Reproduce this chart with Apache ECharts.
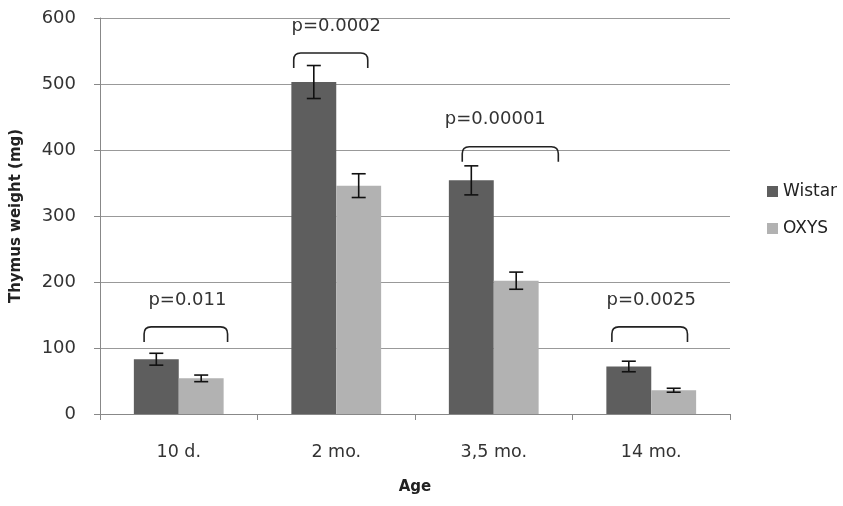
<!DOCTYPE html>
<html>
<head>
<meta charset="utf-8">
<script src="https://cdn.jsdelivr.net/npm/echarts@6/dist/echarts.min.js"></script>
<style>html,body{margin:0;padding:0;background:#fff}</style>
</head>
<body>
<div id="chart" style="width:843px;height:506px"></div>
<script>
var categories = ['10 d.', '2 mo.', '3,5 mo.', '14 mo.'];
var wistar = [83, 503, 354, 72];
var wistarErr = [9, 25, 22, 8];
var oxys = [54, 346, 202, 36];
var oxysErr = [5, 18, 13, 3];
var pValues = ['p=0.011', 'p=0.0002', 'p=0.00001', 'p=0.0025'];
var bracketTop = [132, 547, 405, 132];

// bracket left/right ends and label centre, as fractions of the category width
var bracketSpan = [[-0.22, 0.31, 0.055], [-0.27, 0.20, 0], [-0.20, 0.41, 0.01], [-0.25, 0.23, 0]];

var FONT = '"DejaVu Sans", Verdana, sans-serif';
var GAP = 0.43;

function errData(vals, errs) {
  return vals.map(function (v, i) { return [i, v - errs[i], v + errs[i]]; });
}

function errRender(side) {
  return function (params, api) {
    var i = api.value(0);
    var band = api.size([1, 0])[0];
    var off = side * band * (1 - GAP) / 4;
    var lo = api.coord([i, api.value(1)]);
    var hi = api.coord([i, api.value(2)]);
    var x = lo[0] + off, hw = 7;
    var st = { stroke: '#111', lineWidth: 1.6 };
    return {
      type: 'group',
      children: [
        { type: 'line', shape: { x1: x, y1: hi[1], x2: x, y2: lo[1] }, style: st },
        { type: 'line', shape: { x1: x - hw, y1: hi[1], x2: x + hw, y2: hi[1] }, style: st },
        { type: 'line', shape: { x1: x - hw, y1: lo[1], x2: x + hw, y2: lo[1] }, style: st }
      ]
    };
  };
}

function bracketRender(params, api) {
  var i = api.value(0);
  var c = api.coord([i, api.value(1)]);
  var band = api.size([1, 0])[0];
  var s = bracketSpan[i];
  var x1 = c[0] + s[0] * band, x2 = c[0] + s[1] * band, y = c[1];
  var leg = 15, r = 7;
  var d = 'M' + x1 + ' ' + (y + leg) + ' L' + x1 + ' ' + (y + r) +
    ' Q' + x1 + ' ' + y + ' ' + (x1 + r) + ' ' + y +
    ' L' + (x2 - r) + ' ' + y +
    ' Q' + x2 + ' ' + y + ' ' + x2 + ' ' + (y + r) +
    ' L' + x2 + ' ' + (y + leg);
  return {
    type: 'group',
    children: [
      { type: 'path', shape: { pathData: d }, style: { fill: 'none', stroke: '#222', lineWidth: 1.6 } },
      {
        type: 'text', x: c[0] + s[2] * band, y: y - 27,
        style: { text: pValues[i], font: '18px ' + FONT, fill: '#333', align: 'center', verticalAlign: 'middle' }
      }
    ]
  };
}

var chart = echarts.init(document.getElementById('chart'));
var option = {
  animation: false,
  backgroundColor: '#fff',
  grid: { left: 100, right: 113, top: 18, bottom: 92, outerBoundsMode: 'none' },
  legend: {
    data: ['Wistar', 'OXYS'],
    orient: 'vertical',
    left: 762,
    top: 178,
    icon: 'rect',
    itemWidth: 11,
    itemHeight: 11,
    itemGap: 20,
    textStyle: { fontFamily: FONT, fontSize: 17, color: '#222' }
  },
  xAxis: {
    type: 'category',
    data: categories,
    name: 'Age',
    nameLocation: 'middle',
    nameGap: 66,
    nameTextStyle: { fontFamily: FONT, fontSize: 15, fontWeight: 'bold', color: '#222' },
    axisLine: { lineStyle: { color: '#888' } },
    axisTick: { show: true, length: 6, lineStyle: { color: '#888' } },
    axisLabel: { fontFamily: FONT, fontSize: 17.5, color: '#333', margin: 29 }
  },
  yAxis: {
    type: 'value',
    min: 0,
    max: 600,
    interval: 100,
    name: 'Thymus weight (mg)',
    nameLocation: 'middle',
    nameGap: 76,
    nameRotate: 90,
    nameTextStyle: { fontFamily: FONT, fontSize: 15, fontWeight: 'bold', color: '#222' },
    axisLine: { show: true, lineStyle: { color: '#888' } },
    axisTick: { show: true, length: 6, lineStyle: { color: '#888' } },
    splitLine: { lineStyle: { color: '#999' } },
    axisLabel: { fontFamily: FONT, fontSize: 18, color: '#333', margin: 24 }
  },
  series: [
    {
      name: 'Wistar', type: 'bar', data: wistar,
      barGap: 0, barCategoryGap: (GAP * 100) + '%',
      itemStyle: { color: '#5e5e5e' }
    },
    {
      name: 'OXYS', type: 'bar', data: oxys,
      barGap: 0, barCategoryGap: (GAP * 100) + '%',
      itemStyle: { color: '#b2b2b2' }
    },
    {
      name: 'wistarErr', type: 'custom', z: 10,
      data: errData(wistar, wistarErr),
      encode: { x: 0, y: [1, 2] },
      renderItem: errRender(-1)
    },
    {
      name: 'oxysErr', type: 'custom', z: 10,
      data: errData(oxys, oxysErr),
      encode: { x: 0, y: [1, 2] },
      renderItem: errRender(1)
    },
    {
      name: 'brackets', type: 'custom', z: 10,
      data: bracketTop.map(function (v, i) { return [i, v]; }),
      encode: { x: 0, y: 1 },
      renderItem: bracketRender
    }
  ]
};
chart.setOption(option);
</script>
</body>
</html>
